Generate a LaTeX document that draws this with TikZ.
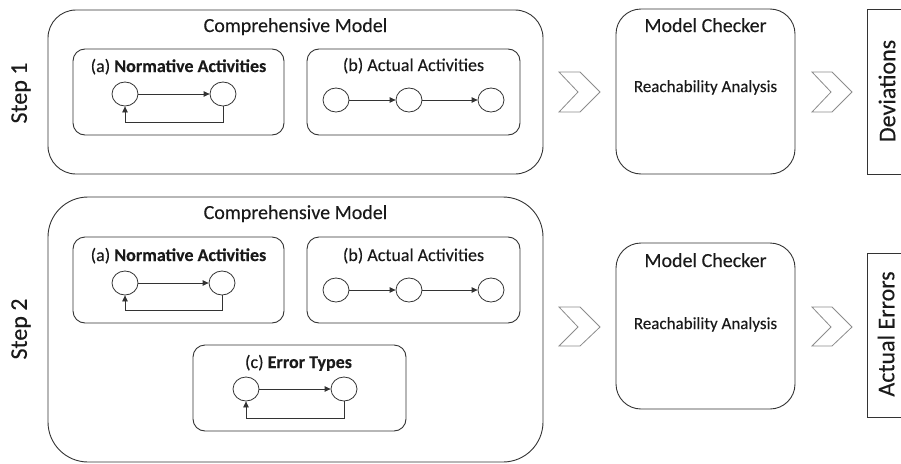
\documentclass[tikz,border=0pt]{standalone}
\usepackage{fontspec}
\setmainfont{Carlito}[FakeBold=0.25]
\usetikzlibrary{arrows.meta,shapes.geometric}
\definecolor{ln}{HTML}{333333}
\definecolor{chv}{HTML}{8C8C8C}
\definecolor{tx}{HTML}{1A1A1A}
\begin{document}
\begin{tikzpicture}[x=1pt,y=-1pt,
  box/.style={draw=ln, line width=0.9pt},
  bigbox/.style={box, rounded corners=28pt},
  bigboxb/.style={box, rounded corners=40pt},
  subbox/.style={box, rounded corners=12pt},
  mcbox/.style={box, rounded corners=25pt},
  circ/.style={ellipse, draw=ln, line width=0.8pt, minimum width=26pt, minimum height=24pt, inner sep=0pt},
  arr/.style={draw=ln, line width=0.8pt, -{Triangle[length=6pt,width=5.5pt]}},
  chev/.style={draw=chv, line width=0.8pt, fill=white, line join=miter},
  ttl/.style={text=tx, anchor=base, inner sep=0pt, font=\fontsize{20}{24}\selectfont},
  sttl/.style={text=tx, anchor=base, inner sep=0pt, font=\fontsize{18}{22}\selectfont},
  rtxt/.style={text=tx, anchor=base, inner sep=0pt, font=\fontsize{17}{20}\selectfont},
  side/.style={text=tx, rotate=90, inner sep=0pt, font=\fontsize{24}{28}\selectfont},
  outtxt/.style={text=tx, rotate=90, inner sep=0pt, font=\fontsize{24}{28}\selectfont}]
\useasboundingbox (0,0) rectangle (901,463);

% ---------- Step 1 ----------
\node[side] (step1) at (21,93) {Step 1};
\draw[bigbox] (48,10) rectangle (543,174);
\node[ttl] (cm1) at (295.5,32) {Comprehensive Model};

\draw[subbox] (73,49) rectangle (284,135);
\node[sttl] (ta1) at (178.5,72) {(a) \textbf{Normative Activities}};
\node[ellipse, circ] (a1l) at (125,94) {};
\node[ellipse, circ] (a1r) at (223,94) {};
\draw[arr] (a1l) -- (a1r);
\draw[arr] (a1r.south) -- ++(0,16) -| (a1l.south);

\draw[subbox] (307,49) rectangle (520,135);
\node[sttl] (tb1) at (413.5,71) {(b) Actual Activities};
\node[circ] (b1a) at (336,100) {};
\node[circ] (b1b) at (409,100) {};
\node[circ] (b1c) at (491,100) {};
\draw[arr] (b1a) -- (b1b);
\draw[arr] (b1b) -- (b1c);

\draw[chev] (559,72) -- (580,72) -- (600,92) -- (580,112) -- (559,112) -- (578,92) -- cycle;

\draw[mcbox] (616,9) rectangle (795,174);
\node[ttl] (mc1) at (705.5,32) {Model Checker};
\node[rtxt] (ra1) at (705.5,92) {Reachability Analysis};

\draw[chev] (812,72) -- (832,72) -- (852,92) -- (832,112) -- (812,112) -- (831,92) -- cycle;

\draw[box] (901,9) -- (867,9) -- (867,174) -- (901,174);
\node[outtxt] (dev) at (887,91) {Deviations};

% ---------- Step 2 ----------
\node[side] (step2) at (21,329) {Step 2};
\draw[bigboxb] (48,197) rectangle (543,462);
\node[ttl] (cm2) at (295.5,219) {Comprehensive Model};

\draw[subbox] (73,237) rectangle (284,323);
\node[sttl] (ta2) at (178.5,261) {(a) \textbf{Normative Activities}};
\node[circ] (a2l) at (125,283) {};
\node[circ] (a2r) at (222,283) {};
\draw[arr] (a2l) -- (a2r);
\draw[arr] (a2r.south) -- ++(0,15) -| (a2l.south);

\draw[subbox] (307,237) rectangle (520,323);
\node[sttl] (tb2) at (413.5,261) {(b) Actual Activities};
\node[circ] (b2a) at (336,290) {};
\node[circ] (b2b) at (409,290) {};
\node[circ] (b2c) at (491,290) {};
\draw[arr] (b2a) -- (b2b);
\draw[arr] (b2b) -- (b2c);

\draw[subbox] (193,345) rectangle (406,431);
\node[sttl] (tc2) at (298.5,368) {(c) \textbf{Error Types}};
\node[circ] (c2l) at (246,389) {};
\node[circ] (c2r) at (344,389) {};
\draw[arr] (c2l) -- (c2r);
\draw[arr] (c2r.south) -- ++(0,17) -| (c2l.south);

\draw[chev] (559,307) -- (580,307) -- (600,327) -- (580,346) -- (559,346) -- (578,327) -- cycle;

\draw[mcbox] (616,243) rectangle (795,409);
\node[ttl] (mc2) at (705.5,267) {Model Checker};
\node[rtxt] (ra2) at (705.5,329) {Reachability Analysis};

\draw[chev] (812,307) -- (832,307) -- (852,327) -- (832,346) -- (812,346) -- (831,327) -- cycle;

\draw[box] (901,253) -- (867,253) -- (867,417) -- (901,417);
\node[outtxt] (ae) at (886,334) {Actual Errors};
\end{tikzpicture}
\end{document}
